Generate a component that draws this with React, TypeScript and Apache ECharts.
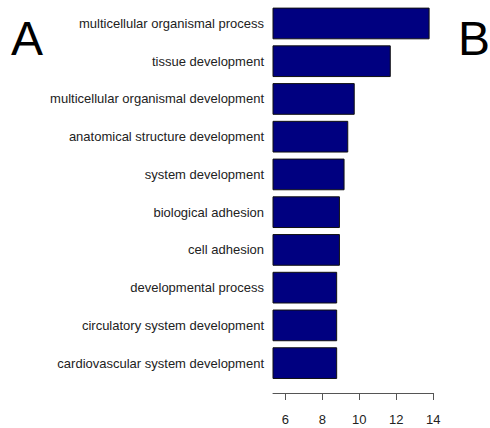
import React, { useEffect, useRef } from "react";
import * as echarts from "echarts";

const categories = [
  "multicellular organismal process",
  "tissue development",
  "multicellular organismal development",
  "anatomical structure development",
  "system development",
  "biological adhesion",
  "cell adhesion",
  "developmental process",
  "circulatory system development",
  "cardiovascular system development",
];
const values = [13.8, 11.7, 9.75, 9.4, 9.2, 8.95, 8.95, 8.8, 8.8, 8.8];
const tickValues = [6, 8, 10, 12, 14];

export default function App() {
  const ref = useRef<HTMLDivElement>(null);
  useEffect(() => {
    if (!ref.current) return;
    const chart = echarts.init(ref.current, null, { renderer: "svg" });
    chart.setOption({
      animation: false,
      backgroundColor: "#ffffff",
      textStyle: { fontFamily: "Liberation Sans" },
      grid: { left: 273, right: 56.7, top: 4.6, bottom: 46, containLabel: false },
      xAxis: {
        type: "value",
        min: 5.33,
        max: 14,
        offset: 11,
        axisLine: { show: true, lineStyle: { color: "#555", width: 1 } },
        axisTick: { show: true, length: 7, customValues: tickValues, lineStyle: { color: "#555" } },
        axisLabel: { customValues: tickValues, color: "#222", fontSize: 13, margin: 20 },
        splitLine: { show: false },
      },
      yAxis: {
        type: "category",
        data: categories,
        inverse: true,
        axisLine: { show: false },
        axisTick: { show: false },
        axisLabel: { color: "#222", fontSize: 13, margin: 9, padding: [0, 0, 4, 0] },
      },
      series: [
        {
          type: "bar",
          data: values,
          barCategoryGap: "16%",
          itemStyle: { color: "#000080", borderColor: "#111", borderWidth: 1 },
        },
      ],
      graphic: [
        { type: "text", left: 11, top: 14, style: { text: "A", fontSize: 48, fill: "#000", fontFamily: "Liberation Sans" } },
        { type: "text", left: 458, top: 14, style: { text: "B", fontSize: 48, fill: "#000", fontFamily: "Liberation Sans" } },
      ],
    });
    return () => chart.dispose();
  }, []);
  return <div ref={ref} style={{ position: "fixed", left: 0, top: 0, width: 490, height: 428 }} />;
}
